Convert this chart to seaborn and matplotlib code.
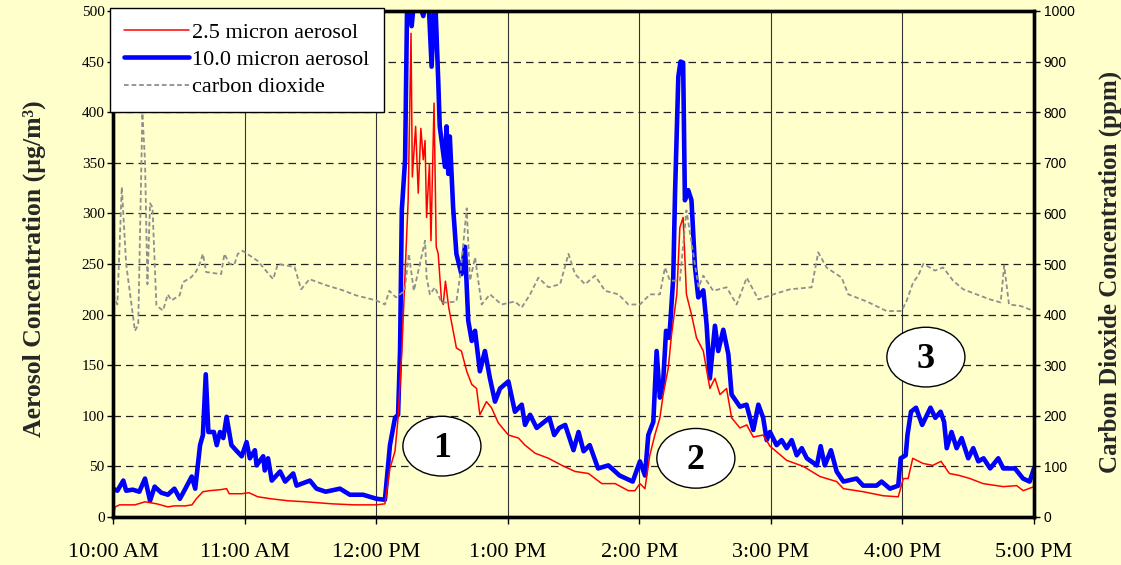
import matplotlib
matplotlib.use("Agg")
import matplotlib.pyplot as plt
import seaborn as sns
from matplotlib.patches import Ellipse
from matplotlib.lines import Line2D

# ---- measurements (time in minutes after 10:00 AM) ----
pm10_min = [0, 2, 4.7, 6, 9, 12, 14.6, 16.9, 19, 22,
            25, 28, 30.5, 33, 35.9, 37.5, 39.7, 41, 42.3, 43.5,
            46, 47.3, 48.8, 50.3, 51.8, 54, 56.5, 58.7, 60.9, 62.4,
            64.7, 65.5, 68.5, 69.2, 70.7, 72.4, 76.2, 78.5, 82.2, 83.7,
            89.8, 92.8, 97, 103.5, 108, 114, 120.2, 124, 126.3, 128.6,
            130, 130.9, 131.7, 133.2, 134.2, 136.2, 137.7, 141.5, 143.7, 145.3,
            146.8, 148.3, 149, 151.4, 152.1, 152.9, 153.6, 155.1, 156.6, 158.9,
            160.5, 162, 163.6, 165.1, 167.3, 169.6, 171.9, 174.2, 176.5, 180.3,
            183.3, 186.4, 187.9, 190.2, 193.2, 199, 201.2, 203.5, 206.2, 210,
            212.3, 214.6, 217.4, 221.2, 225.9, 231, 237, 240.3, 242.6, 244.1,
            246.4, 247.9, 249.4, 250.9, 252.2, 253.7, 255.5, 256.3, 257.8, 258.8,
            260, 260.8, 262.3, 263.8, 265.4, 266.9, 269.2, 270.7, 272.2, 274.5,
            276, 278.3, 280.6, 282.1, 285.9, 288.9, 292, 294.3, 296.5, 298.1,
            299.6, 302.6, 304.9, 307.2, 309.5, 311.8, 314.1, 316.4, 321, 322.7,
            324.6, 327.4, 330, 333.1, 339.1, 342.1, 348.2, 350.5, 354.3, 358.1,
            359.2, 361.5, 362.3, 363.9, 366.2, 369, 372.8, 375, 377.4, 379,
            380.2, 382.4, 384.7, 387, 390, 392.3, 394.6, 397, 400, 403.7,
            406, 411.3, 415, 418, 420]
pm10_val = [28, 26, 36, 26, 27, 25, 38, 16, 30, 24,
            22, 28, 18, 28, 40, 28, 71, 81, 141, 84,
            84, 71, 84, 78, 99, 71, 65, 60, 74, 58,
            66, 51, 60, 46, 58, 36, 45, 35, 43, 31,
            36, 28, 25, 28, 22, 22, 18, 17, 71, 98,
            101, 164, 303, 353, 520, 485, 520, 495, 520, 445,
            520, 432, 386, 346, 386, 339, 376, 306, 260, 240,
            267, 194, 174, 184, 144, 164, 137, 114, 127, 134,
            104, 111, 91, 101, 88, 98, 81, 88, 91, 66,
            84, 65, 71, 48, 51, 41, 35, 55, 41, 81,
            94, 164, 118, 134, 184, 177, 237, 320, 435, 450,
            449, 313, 323, 313, 247, 217, 224, 190, 137, 189,
            164, 185, 161, 121, 109, 111, 86, 111, 98, 76,
            84, 71, 76, 68, 76, 61, 68, 58, 51, 70,
            51, 66, 45, 35, 38, 31, 31, 35, 28, 31,
            58, 61, 81, 104, 108, 91, 108, 98, 104, 94,
            68, 84, 68, 78, 58, 68, 55, 58, 48, 58,
            48, 48, 38, 35, 48]

pm25_min = [0, 1, 3, 10, 14.6, 20, 25, 28, 33, 36,
            38, 41, 44, 49, 51.8, 53, 58.7, 62, 66, 72,
            80, 88, 100, 110, 120, 124, 126.3, 128.6, 130, 131.7,
            134.6, 135.9, 136.5, 138, 139.2, 140.4, 141.5, 142.3, 143, 144.3,
            145, 146.4, 147.4, 148.3, 149.8, 150.6, 151.6, 153.1, 156.6, 158.9,
            161.3, 163.6, 165.8, 167.3, 170.3, 172.6, 175.7, 180.3, 184.9, 187.9,
            192.5, 198.6, 204.7, 210.7, 216.8, 222.9, 229, 235, 238, 240.3,
            242.6, 244.8, 247.1, 249.4, 250.9, 253.2, 254.7, 257.1, 258.5, 260,
            261.5, 263.8, 266.1, 269.2, 272.2, 274.5, 276.8, 279.8, 282.1, 285.9,
            289, 292, 296.5, 299.6, 307.2, 314.8, 322.4, 330, 333.1, 342.1,
            351.2, 358.1, 360.4, 362.6, 364.7, 369.3, 373.8, 377.6, 381.4, 386,
            390.8, 396.8, 406, 412.1, 415.1, 420]
pm25_val = [0, 10, 12, 12, 15, 13, 10, 11, 11, 12,
            18, 25, 26, 27, 28, 23, 23, 24, 20, 18,
            16, 15, 13, 12, 12, 13, 48, 65, 98, 164,
            313, 478, 336, 386, 320, 384, 353, 372, 296, 349,
            273, 409, 267, 260, 214, 210, 233, 207, 167, 164,
            144, 131, 127, 101, 114, 108, 93, 81, 78, 71,
            63, 58, 51, 45, 43, 33, 33, 26, 26, 33,
            28, 61, 81, 98, 121, 147, 180, 220, 286, 296,
            220, 200, 177, 164, 127, 137, 121, 127, 98, 88,
            91, 79, 81, 70, 56, 50, 40, 35, 28, 25,
            21, 20, 38, 38, 58, 53, 51, 55, 43, 41,
            38, 33, 30, 31, 26, 30]

co2_min = [0, 2, 4, 6, 10, 11.5, 13.4, 14.6, 15.7, 16.9,
           18, 19.1, 19.8, 22.8, 25, 26.6, 30.4, 31.9, 35.7, 38,
           39.5, 41, 42.5, 49.3, 50.8, 53.1, 55.4, 56.9, 59.2, 66,
           73, 75.2, 82.8, 85.8, 89.6, 97.2, 104.8, 110.9, 120, 124,
           126, 129, 133, 134.9, 137.2, 142.3, 143, 144.5, 146.8, 149.8,
           152.9, 156.6, 158.4, 161.3, 162.8, 165.1, 168.1, 171.9, 177.2, 183.3,
           186.4, 190.2, 194, 198.6, 203.9, 207.7, 210.7, 215.3, 219.8, 224.4,
           230.5, 235, 240.3, 244.9, 249.4, 251.7, 254, 258.5, 261.5, 267,
           269.2, 273.7, 279.8, 284.4, 289, 294.3, 301.1, 308.7, 318.6, 321.6,
           325.4, 332.3, 335.3, 343.7, 352.8, 359.6, 361.9, 364.9, 367.2, 369.5,
           372.5, 374.8, 378.6, 383.1, 387.7, 393.8, 399.9, 404.8, 406.4, 408.6,
           414, 420]
co2_val = [440, 420, 652, 500, 368, 380, 798, 704, 460, 620,
           612, 492, 418, 408, 440, 428, 438, 464, 474, 486,
           500, 520, 484, 480, 520, 500, 500, 520, 526, 506,
           470, 500, 494, 450, 470, 458, 448, 438, 428, 420,
           447, 434, 447, 520, 447, 546, 474, 440, 454, 424,
           424, 426, 480, 610, 467, 513, 420, 440, 420, 426,
           414, 440, 473, 454, 460, 520, 480, 460, 477, 447,
           440, 420, 420, 440, 440, 493, 467, 467, 606, 454,
           477, 447, 454, 420, 473, 430, 440, 450, 454, 523,
           493, 473, 440, 426, 407, 407, 427, 464, 477, 500,
           493, 487, 493, 467, 450, 440, 430, 424, 497, 420,
           417, 407]

hour_ticks = [0, 60, 120, 180, 240, 300, 360, 420]
hour_labels = ["10:00 AM", "11:00 AM", "12:00 PM", "1:00 PM",
               "2:00 PM", "3:00 PM", "4:00 PM", "5:00 PM"]
series_names = ["2.5 micron aerosol", "10.0 micron aerosol", "carbon dioxide"]
event_names = ["1", "2", "3"]

# ---- styling ----
BG = "#FFFFCC"
RED = "#FF0000"
BLUE = "#0000FF"
GRAY = "#8F8F8F"
CO2_DASH = (0, (2.6, 1.6))

sns.set_theme(style="ticks")
plt.rcParams.update({
    "font.family": ["Liberation Serif", "DejaVu Serif"],
    "figure.facecolor": BG,
    "axes.facecolor": BG,
    "savefig.facecolor": BG,
    "axes.edgecolor": "black",
    "xtick.color": "black",
    "ytick.color": "black",
    "text.color": "black",
})

fig = plt.figure(figsize=(11.21, 5.65), dpi=100)
ax = fig.add_axes([113 / 1121, 1 - 517 / 565, 921 / 1121, 506 / 565])
ax2 = ax.twinx()

# grid: dashed horizontal, solid vertical
ax.set_axisbelow(True)
ax.yaxis.grid(True, linestyle=(0, (6, 4)), color="#222222", linewidth=0.9)
ax.xaxis.grid(True, linestyle="-", color="#333333", linewidth=0.8)

sns.lineplot(x=pm25_min, y=pm25_val, ax=ax, color=RED, linewidth=1.1,
             legend=False, zorder=3)
sns.lineplot(x=pm10_min, y=pm10_val, ax=ax, color=BLUE, linewidth=3.3,
             legend=False, zorder=2)
sns.lineplot(x=co2_min, y=co2_val, ax=ax2, color=GRAY, linewidth=1.3,
             linestyle=CO2_DASH, legend=False, zorder=2)

ax.set_xlim(0, 420)
ax.set_ylim(0, 500)
ax2.set_ylim(0, 1000)
ax.set_xticks(hour_ticks)
ax.set_xticklabels(hour_labels)
ax.set_yticks(range(0, 501, 50))
ax2.set_yticks(range(0, 1001, 100))

ax.tick_params(axis="y", direction="out", length=4, width=1, labelsize=11, pad=2)
ax.tick_params(axis="x", direction="out", length=5, width=1, labelsize=16, pad=14)
ax2.tick_params(axis="y", direction="out", length=4, width=1, labelsize=10,
                pad=3, labelfontfamily="Liberation Sans")

for a in (ax, ax2):
    for s in a.spines.values():
        s.set_linewidth(2.4)
        s.set_color("black")

ax.set_xlabel("")
ax.set_ylabel("Aerosol Concentration (µg/m³)", fontsize=18.5, fontweight="bold")
ax.yaxis.set_label_coords(-0.073, 0.49)
ax2.set_ylabel("Carbon Dioxide Concentration (ppm)", fontsize=18, fontweight="bold")
ax2.yaxis.set_label_coords(1.070, 0.485)

# numbered event callouts
event_x = [150.0, 265.8, 370.7]
event_y = [70.0, 58.0, 158.0]
for name, ex, ey in zip(event_names, event_x, event_y):
    ax2.add_patch(Ellipse((ex, ey), width=35.6, height=59.0, transform=ax.transData,
                          facecolor="white", edgecolor="black", linewidth=1.0,
                          zorder=10, clip_on=False))
    ax2.text(ex, ey - 2, name, transform=ax.transData, ha="center", va="center",
             fontsize=26, fontweight="bold", zorder=11)

handles = [
    Line2D([], [], color=RED, linewidth=1.1),
    Line2D([], [], color=BLUE, linewidth=3.3),
    Line2D([], [], color=GRAY, linewidth=1.3, linestyle=CO2_DASH),
]
leg = ax2.legend(handles, series_names, loc="upper left",
                 bbox_to_anchor=(110 / 1121, 1 - 8 / 565),
                 bbox_transform=fig.transFigure, frameon=True, fancybox=False,
                 framealpha=1, facecolor="white", edgecolor="black",
                 fontsize=16, borderpad=0.65, labelspacing=0.3,
                 handlelength=2.9, handletextpad=0.15, borderaxespad=0)
leg.get_frame().set_linewidth(1.0)
leg.set_zorder(20)

fig.savefig("out.png", dpi=100)
